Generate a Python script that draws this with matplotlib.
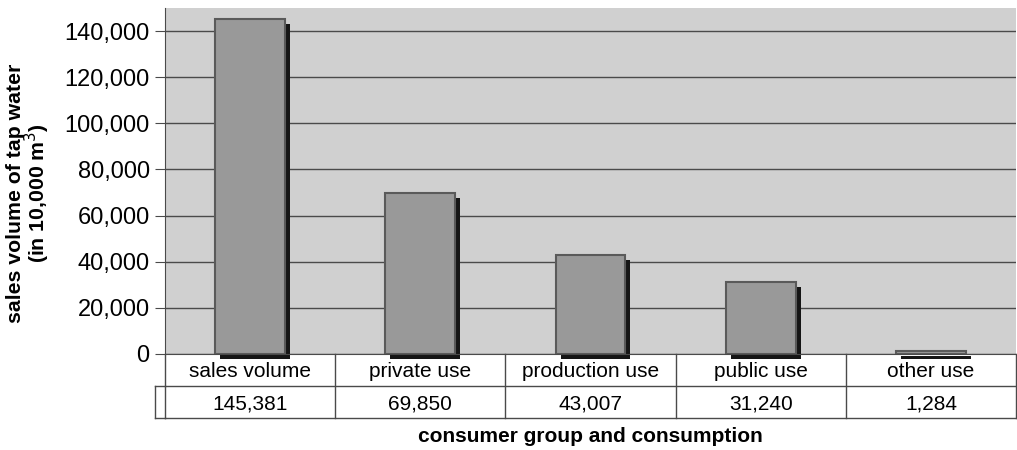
import matplotlib.pyplot as plt
import matplotlib.transforms as mtransforms
import numpy as np

plt.rcParams['font.family'] = ['Liberation Sans', 'DejaVu Sans']

categories = ["sales volume", "private use", "production use", "public use", "other use"]
values = [145381, 69850, 43007, 31240, 1284]

fig = plt.figure(figsize=(10.17, 4.5), dpi=100)
ax = fig.add_axes([165 / 1017, 1 - 354 / 450, 851 / 1017, 346 / 450])
ax.set_facecolor('#d0d0d0')

x = np.arange(len(categories))
w = 0.41

# shadow under each bar, shifted a few pixels right and down
shadow = mtransforms.offset_copy(ax.transData, fig=fig, x=5, y=-5, units='dots')
ax.bar(x, values, width=w, color='#151515', transform=shadow, zorder=2, clip_on=False)
ax.bar(x, values, width=w, color='#999999', edgecolor='#5a5a5a', linewidth=1.5, zorder=3)

ax.set_xlim(-0.5, len(categories) - 0.5)
ax.set_ylim(0, 150000)
ax.set_yticks(range(0, 140001, 20000))
ax.set_yticklabels([f"{v:,}" for v in range(0, 140001, 20000)], fontsize=17)
ax.yaxis.grid(True, color='#4a4a4a', linewidth=1)
ax.set_axisbelow(True)
ax.tick_params(axis='y', length=7, color='#4a4a4a', pad=4)
ax.set_xticks([])
for s in ['top', 'right']:
    ax.spines[s].set_visible(False)
ax.spines['left'].set_color('#4a4a4a')
ax.spines['bottom'].set_color('#4a4a4a')

fig.text(29 / 1017, 1 - 193 / 450, "sales volume of tap water\n(in 10,000 m$^3$)",
         rotation=90, ha='center', va='center', fontsize=15.3,
         fontweight='bold', linespacing=0.9, multialignment='center')

# data table below the plot
tab = fig.add_axes([165 / 1017, 1 - 418 / 450, 851 / 1017, 64 / 450])
tab.set_xlim(-0.5, len(categories) - 0.5)
tab.set_ylim(0, 2)
tab.axis('off')
lc = '#4a4a4a'
for i, (c, v) in enumerate(zip(categories, values)):
    tab.text(i, 1.45, c, ha='center', va='center', fontsize=15)
    tab.text(i, 0.45, f"{v:,}", ha='center', va='center', fontsize=15)
for b in np.arange(-0.5, len(categories) + 0.5):
    tab.plot([b, b], [0, 2], color=lc, lw=1, clip_on=False)
tab.plot([-0.5, 4.5], [1, 1], color=lc, lw=1, clip_on=False)
tab.plot([-0.5, 4.5], [0, 0], color=lc, lw=1, clip_on=False)
# small row-header cell on the left of the values row
hx = -0.5 - 10 / (851 / 5)
tab.plot([hx, -0.5], [1, 1], color=lc, lw=1, clip_on=False)
tab.plot([hx, -0.5], [0, 0], color=lc, lw=1, clip_on=False)
tab.plot([hx, hx], [0, 1], color=lc, lw=1, clip_on=False)

fig.text((165 + 1016) / 2 / 1017, 1 - 436 / 450, "consumer group and consumption",
         ha='center', va='center', fontsize=15, fontweight='bold')

fig.savefig("out.png", dpi=100)
